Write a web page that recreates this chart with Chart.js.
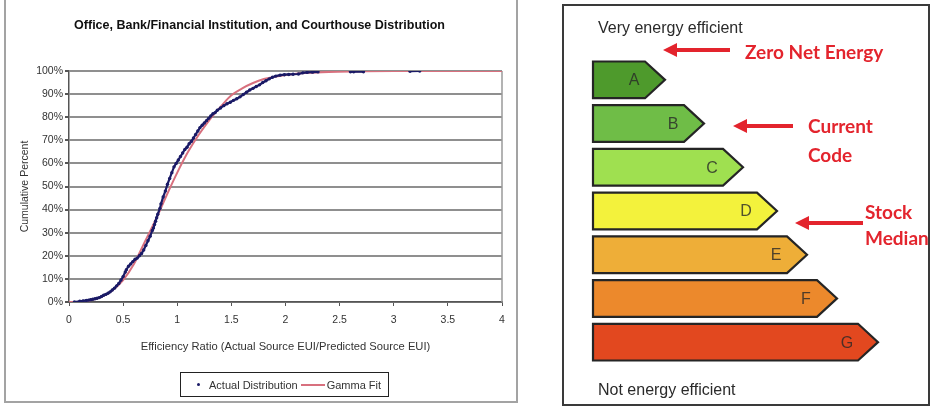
<!DOCTYPE html>
<html>
<head>
<meta charset="utf-8">
<script src="https://cdn.jsdelivr.net/npm/chart.js@4.4.0/dist/chart.umd.min.js"></script>
<style>
body { margin: 0; width: 930px; height: 418px; background: #fff; position: relative; overflow: hidden; font-family: "Liberation Sans", Arial, sans-serif; }
#leftPanel { position: absolute; left: 4px; top: -4px; width: 510px; height: 403px; border: 2px solid #a3a3a3; }
#rightPanel { position: absolute; left: 562px; top: 4px; width: 364px; height: 398px; border: 2px solid #3a3a3a; }
#distChart { position: absolute; left: 7px; top: 0; }
#ratingChart { position: absolute; left: 563px; top: 5px; }
#legendBox { position: absolute; left: 180px; top: 372px; width: 207px; height: 23px; border: 1px solid #222; display: flex; align-items: center; font-size: 11px; color: #333; }
#legendBox .dot { display: inline-block; width: 3px; height: 3px; border-radius: 50%; background: #1a1a66; margin: 0 9px 0 16px; }
#legendBox .fitLine { display: inline-block; width: 24px; height: 2px; background: #d8707e; margin: 0 2px 0 3px; }
.note { position: absolute; font-family: Lato, "Open Sans", sans-serif; font-weight: bold; font-size: 19px; color: #e3242d; line-height: 22px; white-space: nowrap; }
.caption { position: absolute; font-size: 16px; color: #2a2a2a; line-height: 18px; white-space: nowrap; }
</style>
</head>
<body>
<div id="leftPanel"></div>
<div id="rightPanel"></div>
<canvas id="distChart" width="508" height="400"></canvas>
<canvas id="ratingChart" width="365" height="400"></canvas>
<div id="legendBox"><span class="dot"></span>Actual Distribution<span class="fitLine"></span>Gamma Fit</div>

<div class="caption" style="left:598px; top:19px;">Very energy efficient</div>
<div class="caption" style="left:598px; top:381px;">Not energy efficient</div>
<div class="note" style="left:745px; top:41px;">Zero Net Energy</div>
<div class="note" style="left:808px; top:115px;">Current</div>
<div class="note" style="left:808px; top:144px;">Code</div>
<div class="note" style="left:865px; top:201px;">Stock</div>
<div class="note" style="left:865px; top:227px;">Median</div>

<script>
// ---- left chart data ----
const xTickLabels = ['0', '0.5', '1', '1.5', '2', '2.5', '3', '3.5', '4'];
const yTickLabels = ['0%', '10%', '20%', '30%', '40%', '50%', '60%', '70%', '80%', '90%', '100%'];

const actualX = [0.05, 0.10, 0.13, 0.16, 0.18, 0.20, 0.22, 0.24, 0.26, 0.28, 0.30, 0.32, 0.34, 0.36, 0.38, 0.40,
    0.42, 0.44, 0.46, 0.48, 0.50, 0.52, 0.53, 0.55, 0.57, 0.59, 0.61, 0.63, 0.65, 0.67, 0.69, 0.71, 0.73, 0.75,
    0.77, 0.78, 0.79, 0.80, 0.81, 0.82, 0.84, 0.85, 0.87, 0.89, 0.91, 0.93, 0.95, 0.97, 0.99, 1.01, 1.03, 1.05,
    1.07, 1.09, 1.11, 1.13, 1.15, 1.17, 1.19, 1.21, 1.23, 1.25, 1.27, 1.29, 1.31, 1.33, 1.35, 1.37, 1.40, 1.43,
    1.46, 1.49, 1.52, 1.55, 1.58, 1.61, 1.64, 1.67, 1.70, 1.73, 1.76, 1.79, 1.82, 1.85, 1.88, 1.91, 1.95, 1.99,
    2.03, 2.07, 2.12, 2.16, 2.20, 2.25, 2.30, 2.60, 2.63, 2.72, 3.15, 3.24];
const actualY = [0, 0.3, 0.5, 0.7, 0.8, 1.0, 1.2, 1.4, 1.6, 1.9, 2.4, 2.9, 3.3, 3.8, 4.4, 5.2,
    6.0, 7.0, 8.0, 9.5, 11.0, 13.0, 14.0, 15.5, 16.5, 17.5, 18.5, 19.0, 20.0, 21.0, 22.5, 24.5, 26.5, 28.5,
    31.0, 32.0, 33.5, 35.0, 36.5, 38.0, 40.5, 42.5, 45.5, 48.0, 51.0, 53.5, 56.0, 58.5, 60.0, 61.5, 63.0, 64.5,
    66.0, 67.0, 68.5, 69.5, 71.0, 72.5, 74.0, 75.5, 76.5, 77.5, 78.5, 79.5, 80.5, 81.5, 82.0, 83.0, 84.0, 85.0,
    85.8, 86.5, 87.3, 88.0, 88.8, 89.8, 90.8, 91.8, 92.5, 93.3, 94.0, 95.0, 95.8, 96.6, 97.3, 97.8, 98.2, 98.4,
    98.5, 98.6, 98.7, 99.2, 99.4, 99.5, 99.6, 99.7, 99.7, 99.7, 99.9, 100];

const fitX = [0, 0.1, 0.2, 0.3, 0.4, 0.5, 0.6, 0.7, 0.8, 0.9, 1.0, 1.1, 1.2, 1.3, 1.4, 1.5, 1.6, 1.7, 1.8, 1.9,
    2.0, 2.1, 2.2, 2.4, 2.6, 3.0, 3.5, 4.0];
const fitY = [0, 0.1, 0.8, 2.2, 5.0, 9.5, 16.5, 26.0, 35.5, 46.0, 56.0, 65.0, 72.5, 79.0, 84.5, 89.5, 92.5, 94.8, 96.5, 97.5,
    98.3, 98.8, 99.2, 99.6, 99.8, 100, 100, 100];

// ---- right chart data ----
const ratingLabels = ['A', 'B', 'C', 'D', 'E', 'F', 'G'];
const ratingLengths = [72, 111, 150, 184, 214, 244, 285];
const ratingColors = ['#4e9a2c', '#6fbd47', '#9fe050', '#f3f23c', '#eeae38', '#ec892c', '#e2481f'];

const TIP = 20;

// plot area border on the right side, like the Excel plot box
const plotBorder = {
    id: 'plotBorder',
    beforeDatasetsDraw(chart) {
        const a = chart.chartArea;
        const ctx = chart.ctx;
        ctx.save();
        ctx.strokeStyle = '#9a9a9a';
        ctx.lineWidth = 1.5;
        ctx.beginPath();
        ctx.moveTo(a.right, a.top);
        ctx.lineTo(a.right, a.bottom);
        ctx.stroke();
        ctx.restore();
    }
};

new Chart(document.getElementById('distChart'), {
    type: 'scatter',
    data: {
        datasets: [{
            label: 'Actual Distribution',
            data: actualX.map((x, i) => ({ x: x, y: actualY[i] })),
            showLine: true,
            backgroundColor: '#1a1a66',
            borderColor: '#1a1a66',
            borderWidth: 2.2,
            pointRadius: 1.7,
            pointBorderWidth: 0,
            // the dense run reads as a jagged line, the sparse tail as lone dots
            segment: {
                borderColor: (c) => (c.p1.parsed.x - c.p0.parsed.x > 0.2 ? 'rgba(0,0,0,0)' : undefined)
            },
            order: 1
        }, {
            label: 'Gamma Fit',
            data: fitX.map((x, i) => ({ x: x, y: fitY[i] })),
            showLine: true,
            borderColor: '#d8707e',
            borderWidth: 2,
            pointRadius: 0,
            cubicInterpolationMode: 'monotone',
            order: 2
        }]
    },
    options: {
        responsive: false,
        animation: false,
        layout: { padding: { left: 10, right: 13, top: 0, bottom: 46 } },
        plugins: {
            legend: { display: false },
            tooltip: { enabled: false },
            title: {
                display: true,
                text: 'Office, Bank/Financial Institution, and Courthouse Distribution',
                font: { size: 12.5, weight: 'bold', family: '"Liberation Sans", Arial' },
                color: '#111',
                padding: { top: 18, bottom: 38 }
            }
        },
        scales: {
            x: {
                type: 'linear',
                min: 0,
                max: 4,
                ticks: {
                    stepSize: 0.5,
                    padding: 8,
                    font: { size: 10.5, family: '"Liberation Sans", Arial' },
                    color: '#333',
                    callback: (v, i) => xTickLabels[i]
                },
                grid: { drawOnChartArea: false, drawTicks: true, tickLength: 4, color: '#555' },
                border: { display: true, color: '#555', width: 1.5 },
                title: {
                    display: true,
                    text: 'Efficiency Ratio (Actual Source EUI/Predicted Source EUI)',
                    font: { size: 11.2, family: '"Liberation Sans", Arial' },
                    color: '#333',
                    padding: { top: 0, bottom: 0 }
                },
                afterFit: (s) => { s.height = 52; }
            },
            y: {
                min: 0,
                max: 100,
                ticks: {
                    stepSize: 10,
                    padding: 2,
                    font: { size: 10.5, family: '"Liberation Sans", Arial' },
                    color: '#333',
                    callback: (v, i) => yTickLabels[i]
                },
                grid: { color: '#8f8f8f', lineWidth: 2, tickLength: 4, tickColor: '#555' },
                border: { display: true, color: '#555', width: 1.5 },
                title: {
                    display: true,
                    text: 'Cumulative Percent',
                    font: { size: 10.5, family: '"Liberation Sans", Arial' },
                    color: '#333',
                    padding: { top: 2, bottom: 0 }
                },
                afterFit: (s) => { s.width = 52; }
            }
        }
    },
    plugins: [plotBorder]
});

// energy-label arrows built on the bar elements
const ratingArrows = {
    id: 'ratingArrows',
    afterDatasetsDraw(chart) {
        const ctx = chart.ctx;
        const meta = chart.getDatasetMeta(0);
        meta.data.forEach((bar, i) => {
            const h = bar.height;
            const top = bar.y - h / 2;
            const bot = bar.y + h / 2;
            const bodyX = bar.x - TIP;
            ctx.save();
            ctx.beginPath();
            ctx.moveTo(bar.base, top);
            ctx.lineTo(bodyX, top);
            ctx.lineTo(bar.x, bar.y);
            ctx.lineTo(bodyX, bot);
            ctx.lineTo(bar.base, bot);
            ctx.closePath();
            ctx.fillStyle = ratingColors[i];
            ctx.fill();
            ctx.lineWidth = 2.2;
            ctx.lineJoin = 'miter';
            ctx.strokeStyle = '#252525';
            ctx.stroke();
            ctx.fillStyle = 'rgba(40,40,40,0.8)';
            ctx.font = '16px "Liberation Sans", Arial';
            ctx.textAlign = 'center';
            ctx.textBaseline = 'middle';
            ctx.fillText(ratingLabels[i], bodyX - 11, bar.y + 1);
            ctx.restore();
        });

        // red pointer arrows (canvas sits at page 563,5)
        const pointers = [[663, 730, 50], [733, 793, 126], [795, 863, 223]];
        ctx.save();
        ctx.strokeStyle = '#e3242d';
        ctx.fillStyle = '#e3242d';
        ctx.lineWidth = 4;
        pointers.forEach(([tip, tail, y]) => {
            const tx = tip - 563, ex = tail - 563, yy = y - 5;
            ctx.beginPath();
            ctx.moveTo(tx + 12, yy);
            ctx.lineTo(ex, yy);
            ctx.stroke();
            ctx.beginPath();
            ctx.moveTo(tx, yy);
            ctx.lineTo(tx + 14, yy - 7);
            ctx.lineTo(tx + 14, yy + 7);
            ctx.closePath();
            ctx.fill();
        });
        ctx.restore();
    }
};

new Chart(document.getElementById('ratingChart'), {
    type: 'bar',
    data: {
        labels: ratingLabels,
        datasets: [{
            data: ratingLengths,
            backgroundColor: 'rgba(0,0,0,0)',
            borderWidth: 0,
            categoryPercentage: 1,
            barPercentage: 0.84
        }]
    },
    options: {
        indexAxis: 'y',
        responsive: false,
        animation: false,
        layout: { padding: { left: 30, right: 0, top: 53, bottom: 41 } },
        plugins: { legend: { display: false }, tooltip: { enabled: false }, title: { display: false } },
        scales: {
            x: { display: false, min: 0, max: 335 },
            y: { display: false }
        }
    },
    plugins: [ratingArrows]
});
</script>
</body>
</html>
